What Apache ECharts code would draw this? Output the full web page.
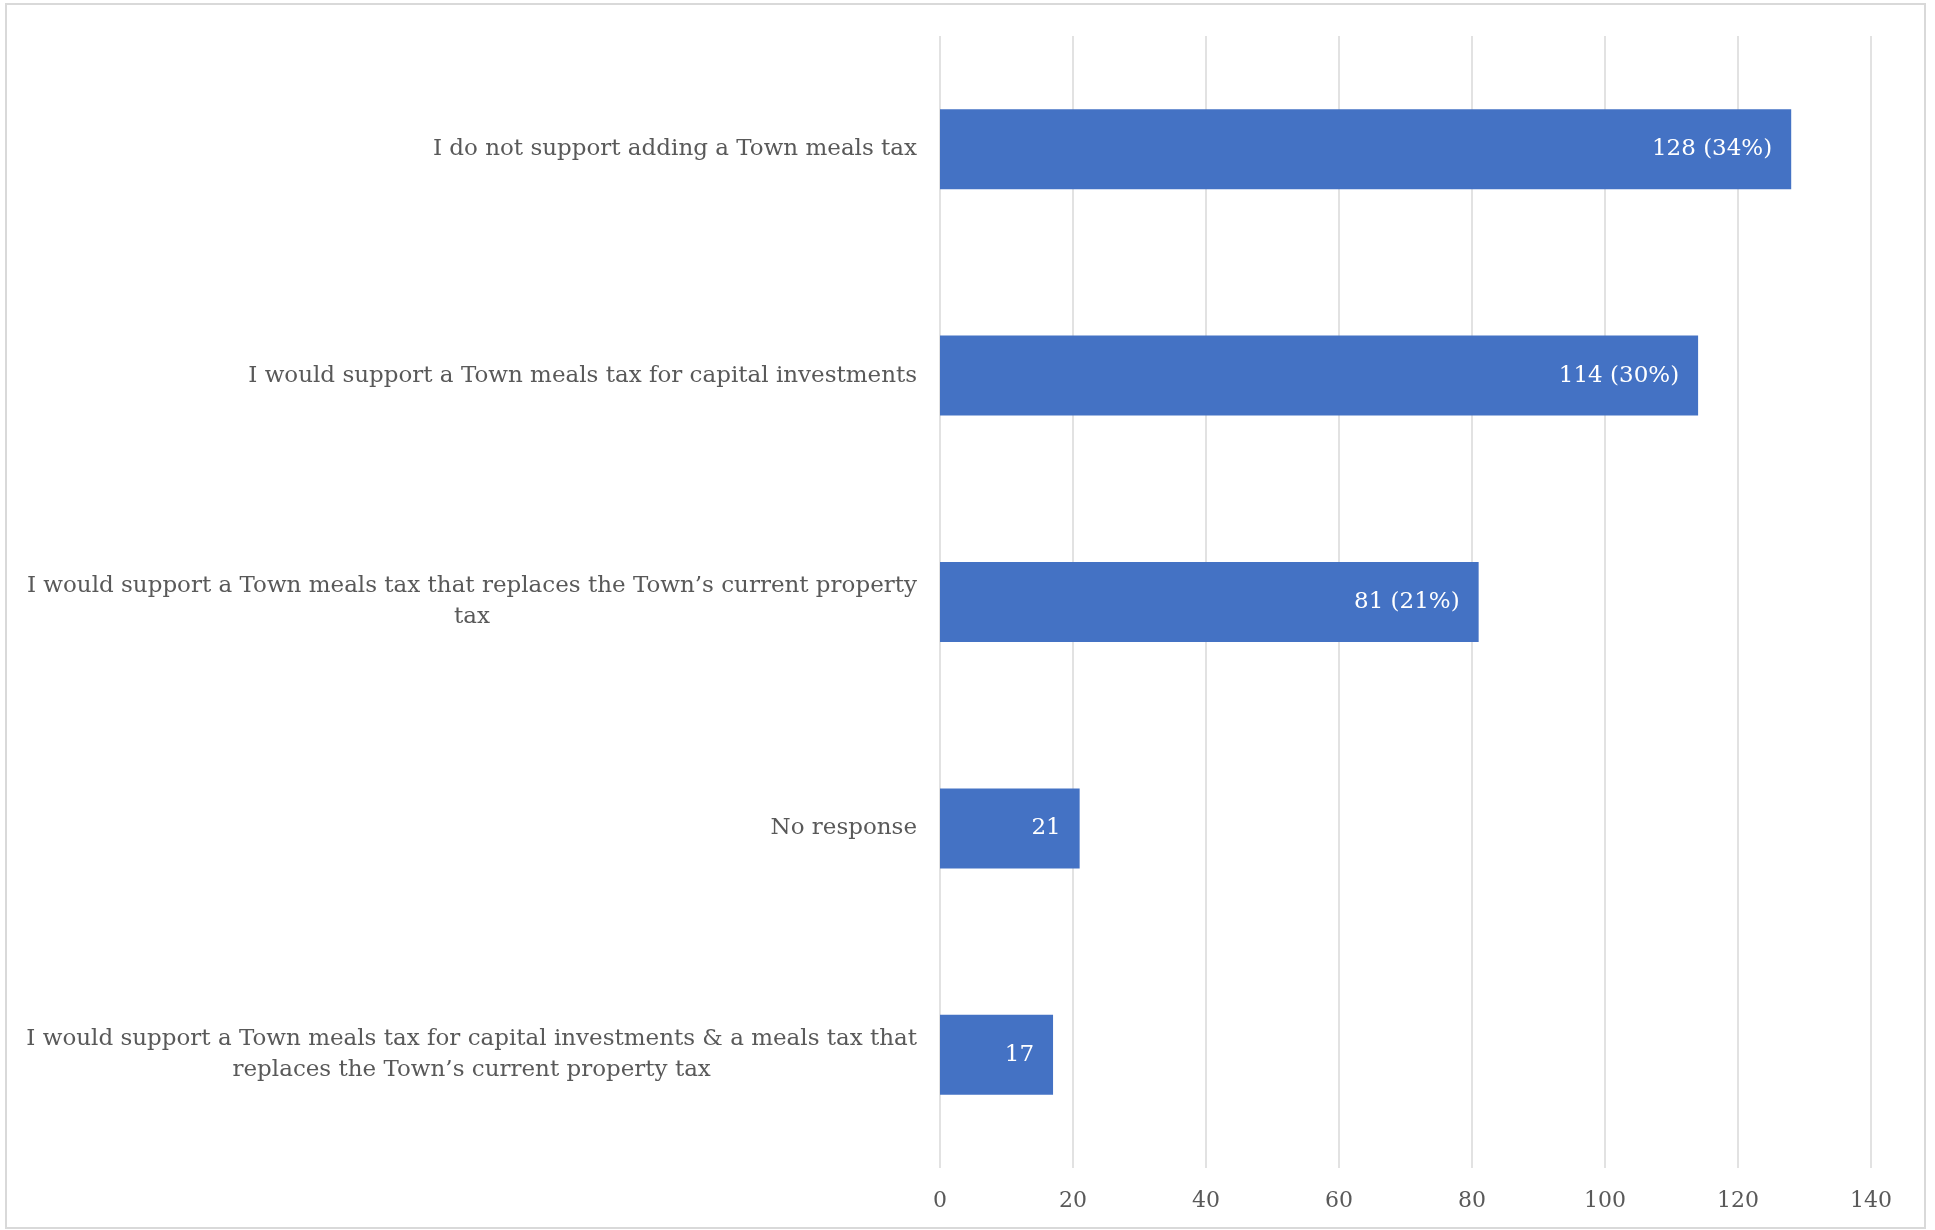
<!DOCTYPE html>
<html>
<head>
<meta charset="utf-8">
<script src="https://cdn.jsdelivr.net/npm/echarts@6/dist/echarts.min.js"></script>
<style>
  html, body { margin: 0; padding: 0; background: #fff; }
  #main { width: 1935px; height: 1230px; }
</style>
</head>
<body>
<div id="main"></div>
<script>
const categories = [
  "I do not support adding a Town meals tax",
  "I would support a Town meals tax for capital investments",
  "I would support a Town meals tax that replaces the Town\u2019s current property\ntax",
  "No response",
  "I would support a Town meals tax for capital investments & a meals tax that\nreplaces the Town\u2019s current property tax",
];
const counts = [128, 114, 81, 21, 17];
const percents = [34, 30, 21, null, null];
const xTicks = { min: 0, max: 140, interval: 20 };

const fontFamily = "'DejaVu Serif', 'Liberation Serif', serif";
const grey = "#595959";

const chart = echarts.init(document.getElementById("main"));

const option = {
  animation: false,
  backgroundColor: "#fff",
  graphic: [
    {
      type: "rect",
      shape: { x: 6, y: 4, width: 1919, height: 1224 },
      style: { fill: "none", stroke: "#d9d9d9", lineWidth: 2 },
      silent: true,
    },
  ],
  grid: { left: 940, right: 64, top: 36, bottom: 62 },
  xAxis: {
    type: "value",
    min: xTicks.min,
    max: xTicks.max,
    interval: xTicks.interval,
    axisLine: { show: false },
    axisTick: { show: false },
    splitLine: { lineStyle: { color: "#d9d9d9", width: 1.5 } },
    axisLabel: {
      color: grey,
      fontFamily: fontFamily,
      fontSize: 22,
      margin: 22,
    },
  },
  yAxis: {
    type: "category",
    data: categories,
    inverse: true,
    axisLine: { show: false },
    axisTick: { show: false },
    axisLabel: {
      margin: 23,
      formatter: (v) => v.split("\n").map((s) => "{c|" + s + "}").join("\n"),
      rich: {
        c: {
          align: "center",
          color: grey,
          fontFamily: fontFamily,
          fontSize: 23,
          lineHeight: 31,
        },
      },
    },
  },
  series: [
    {
      type: "bar",
      data: counts,
      barWidth: 80,
      itemStyle: { color: "#4472C4" },
      label: {
        show: true,
        position: "insideRight",
        distance: 19,
        color: "#fff",
        fontFamily: fontFamily,
        fontSize: 23,
        formatter: (p) => {
          const pct = percents[p.dataIndex];
          return pct == null ? String(p.value) : p.value + " (" + pct + "%)";
        },
      },
    },
  ],
};

chart.setOption(option);
</script>
</body>
</html>
